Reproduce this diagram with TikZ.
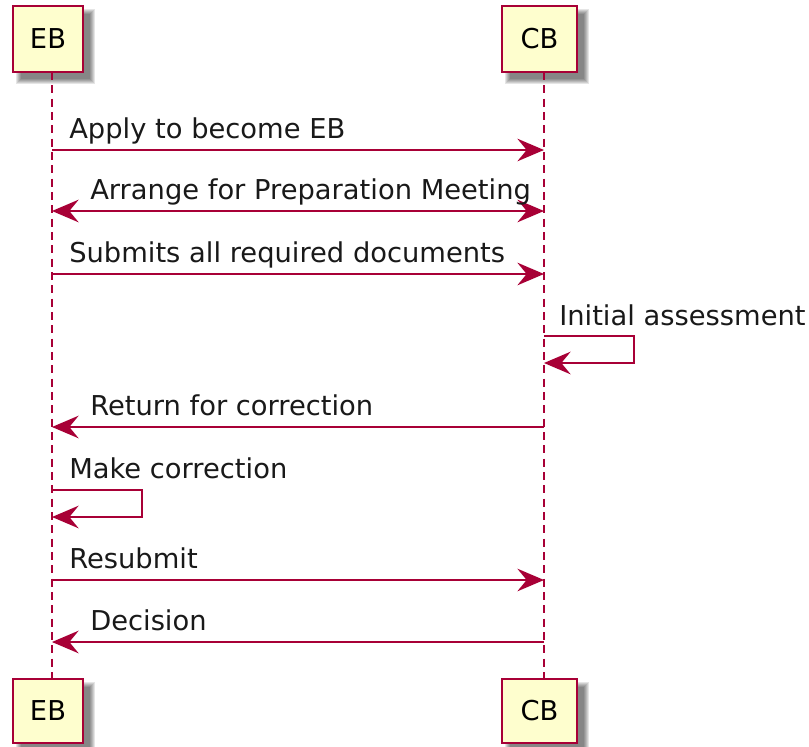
\documentclass[tikz,border=0pt]{standalone}
\usepackage{fontspec}
\setmainfont{DejaVu Sans}
\usetikzlibrary{arrows.meta}
\definecolor{umlred}{HTML}{A80036}
\definecolor{umlfill}{HTML}{FEFECE}
\tikzset{
  part/.style={draw=umlred, line width=1.6pt, fill=umlfill, inner sep=0pt, font=\fontsize{20.5pt}{24pt}\selectfont},
  shadowbox/.style={fill=black, opacity=0.1, draw=none},
  lifeline/.style={draw=umlred, line width=1.1pt, dash pattern=on 6pt off 4pt},
  tip/.style={-{Stealth[length=20pt, width=17pt, inset=7pt]}},
  msg/.style={draw=umlred, line width=1.1pt, tip},
  bimsg/.style={draw=umlred, line width=1.1pt, {Stealth[length=20pt, width=17pt, inset=7pt]}-{Stealth[length=20pt, width=17pt, inset=7pt]}},
  lbl/.style={anchor=base west, inner sep=0pt, font=\fontsize{20.5pt}{24pt}\selectfont, text=black!90}
}
\newcommand\softshadow[4]{%
  \fill[shadowbox] (#1+3,#2+3) rectangle (#3+12,#4+12);
  \fill[shadowbox] (#1+4,#2+4) rectangle (#3+11,#4+11);
  \fill[shadowbox] (#1+5,#2+5) rectangle (#3+10,#4+10);
  \fill[shadowbox] (#1+6,#2+6) rectangle (#3+9,#4+9);
  \fill[shadowbox] (#1+7,#2+7) rectangle (#3+8,#4+8);
  \fill[shadowbox] (#1+8,#2+8) rectangle (#3+7,#4+7);
}
\begin{document}
\begin{tikzpicture}[x=0.75pt, y=-0.75pt]
\useasboundingbox (0,0) rectangle (809,746);
% shadows
\softshadow{13}{6}{83}{72}
\softshadow{502}{6}{577}{72}
\softshadow{13}{679}{83}{743}
\softshadow{502}{679}{577}{743}
% participants
\node[part, minimum width=52.5pt, minimum height=49.5pt] (ebtop) at (48,39) {EB};
\node[part, minimum width=56pt, minimum height=49.5pt] (cbtop) at (539.5,39) {CB};
\node[part, minimum width=52.5pt, minimum height=48pt] (ebbot) at (48,711) {EB};
\node[part, minimum width=56pt, minimum height=48pt] (cbbot) at (539.5,711) {CB};
% lifelines
\coordinate (ebl1) at (52,72);
\coordinate (ebl2) at (52,679);
\coordinate (cbl1) at (544,72);
\coordinate (cbl2) at (544,679);
\draw[lifeline] (ebl1) -- (ebl2);
\draw[lifeline] (cbl1) -- (cbl2);
% message points
\coordinate (e1) at (52,150); \coordinate (c1) at (544,150);
\coordinate (e2) at (52,211); \coordinate (c2) at (544,211);
\coordinate (e3) at (52,274); \coordinate (c3) at (544,274);
\coordinate (c4a) at (544,336); \coordinate (c4b) at (544,363);
\coordinate (e5) at (52,427); \coordinate (c5) at (544,427);
\coordinate (e6a) at (52,490); \coordinate (e6b) at (52,517);
\coordinate (e7) at (52,580); \coordinate (c7) at (544,580);
\coordinate (e8) at (52,642); \coordinate (c8) at (544,642);
% messages
\draw[msg] (e1) -- (c1);
\node[lbl] (t1) at (69,138) {Apply to become EB};
\draw[bimsg] (e2) -- (c2);
\node[lbl] (t2) at (90,199) {Arrange for Preparation Meeting};
\draw[msg] (e3) -- (c3);
\node[lbl] (t3) at (69,262) {Submits all required documents};
\draw[msg] (c4a) -- ++(90,0) |- (c4b);
\node[lbl] (t4) at (559,325) {Initial assessment};
\draw[msg] (c5) -- (e5);
\node[lbl] (t5) at (90,415) {Return for correction};
\draw[msg] (e6a) -- ++(90,0) |- (e6b);
\node[lbl] (t6) at (69,478) {Make correction};
\draw[msg] (e7) -- (c7);
\node[lbl] (t7) at (69,568) {Resubmit};
\draw[msg] (c8) -- (e8);
\node[lbl] (t8) at (90,630) {Decision};
\end{tikzpicture}
\end{document}
